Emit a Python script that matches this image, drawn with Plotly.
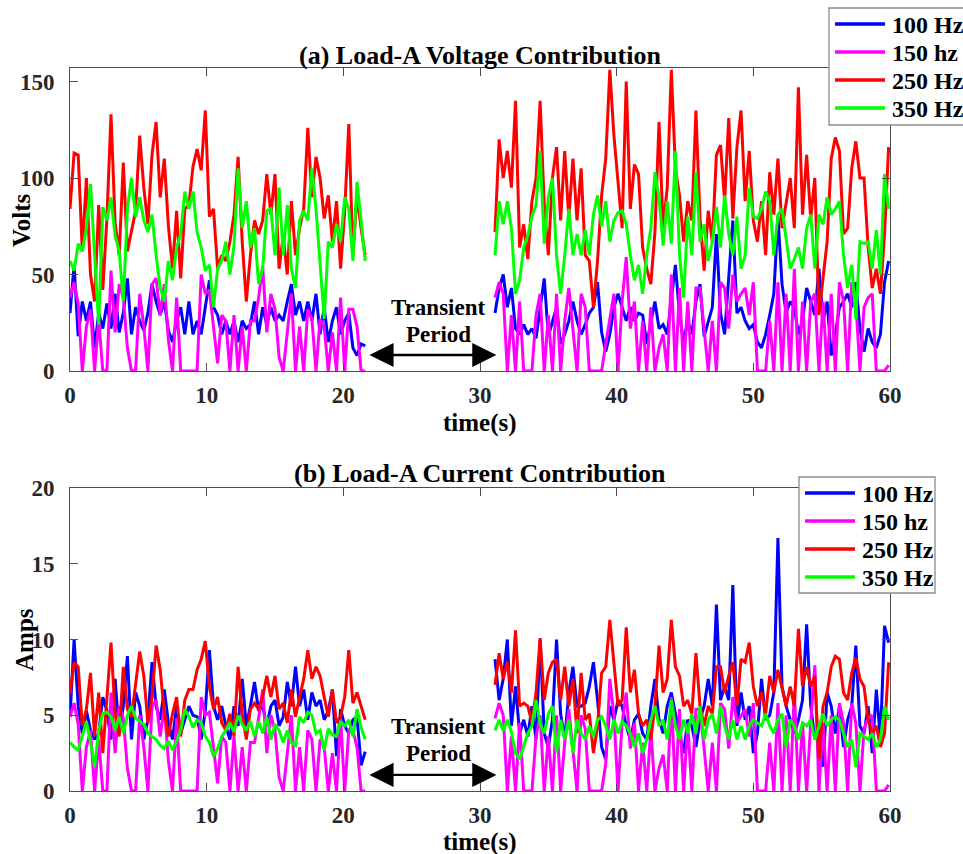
import numpy as np
import plotly.graph_objects as go

# Sample times of the two recorded windows (the gap between them is the transient period)
t_pre = np.round(np.linspace(0.0, 21.6, 73), 1)
t_post = np.round(np.linspace(31.1, 59.9, 97), 1)

harmonics = ["100 Hz", "150 hz", "250 Hz", "350 Hz"]

# ---- (a) Voltage contribution, Volts ----
v100_pre = [30, 55, 18, 36, 26, 36, 12, 30, 22, 35, 22, 40, 20, 30, 48, 19, 33, 26, 21, 30,
            45, 36, 29, 36, 21, 15, 26, 33, 19, 36, 19, 26, 19, 33, 47, 33, 29, 19, 26, 19,
            26, 15, 26, 22, 24, 36, 19, 33, 24, 33, 26, 29, 26, 36, 45, 29, 36, 26, 36, 26,
            40, 19, 33, 15, 26, 33, 19, 26, 30, 12, 8, 14, 13]
v100_post = [30, 43, 50, 33, 43, 22, 19, 24, 19, 22, 17, 33, 48, 18, 26, 33, 14, 19, 26, 36,
             26, 19, 24, 30, 33, 46, 20, 10, 19, 33, 40, 33, 26, 33, 26, 30, 29, 14, 26, 36,
             22, 24, 19, 36, 55, 29, 15, 26, 19, 36, 45, 18, 26, 33, 71, 30, 19, 50, 78, 30,
             33, 26, 22, 24, 15, 12, 19, 29, 40, 80, 45, 30, 36, 33, 19, 26, 43, 36, 29, 53,
             26, 36, 8, 19, 33, 36, 40, 33, 46, 22, 10, 22, 15, 12, 19, 46, 57]

v150_pre = [38, 46, 35, 0, 23, 32, 0, 27, 0, 0, 52, 20, 45, 38, 12, 0, 0, 40, 23, 0,
            45, 48, 29, 45, 16, 0, 38, 0, 0, 0, 0, 0, 50, 40, 42, 23, 4, 29, 26, 0,
            29, 0, 23, 0, 26, 26, 38, 54, 20, 40, 32, 7, 0, 20, 40, 0, 23, 0, 32, 27,
            0, 27, 23, 0, 20, 0, 38, 0, 32, 32, 23, 0, 0]
v150_post = [38, 46, 40, 0, 29, 0, 36, 0, 0, 0, 29, 40, 0, 29, 0, 40, 0, 26, 43, 22,
             0, 40, 33, 0, 0, 0, 0, 14, 27, 40, 0, 36, 59, 22, 36, 0, 26, 0, 33, 0,
             12, 19, 0, 50, 0, 43, 0, 36, 0, 43, 43, 22, 0, 26, 0, 46, 43, 22, 50, 36,
             40, 43, 29, 46, 0, 0, 0, 26, 0, 46, 0, 40, 0, 53, 0, 36, 0, 36, 40, 0,
             36, 0, 40, 0, 46, 36, 0, 46, 36, 0, 33, 38, 40, 0, 0, 0, 3]

v250_pre = [84, 113, 112, 62, 100, 50, 36, 86, 42, 79, 133, 77, 60, 108, 62, 72, 83, 122, 95, 76,
            112, 129, 90, 110, 75, 53, 83, 48, 84, 86, 106, 115, 104, 135, 80, 84, 53, 60, 57, 67,
            81, 111, 67, 36, 60, 78, 71, 78, 102, 81, 102, 53, 70, 50, 88, 60, 74, 84, 126, 90,
            111, 100, 79, 91, 67, 88, 53, 83, 128, 60, 91, 74, 60]
v250_post = [72, 120, 100, 114, 95, 140, 64, 76, 58, 88, 100, 140, 86, 60, 100, 116, 78, 114, 79, 110,
             78, 105, 60, 57, 33, 57, 91, 110, 156, 122, 98, 74, 150, 84, 107, 102, 64, 53, 45, 72,
             129, 74, 95, 156, 105, 91, 67, 88, 78, 135, 79, 52, 83, 67, 112, 117, 88, 131, 79, 116,
             135, 88, 114, 78, 67, 88, 60, 103, 81, 110, 74, 88, 100, 74, 147, 81, 112, 79, 100, 29,
             47, 67, 110, 121, 114, 71, 74, 105, 119, 100, 100, 64, 43, 53, 40, 71, 116]

v350_pre = [57, 52, 66, 62, 74, 97, 60, 24, 85, 78, 90, 70, 62, 36, 84, 100, 80, 90, 78, 72,
            81, 60, 43, 36, 57, 47, 64, 71, 93, 84, 93, 72, 64, 52, 55, 33, 53, 57, 67, 50,
            65, 105, 74, 88, 64, 74, 45, 53, 83, 84, 60, 95, 60, 86, 53, 43, 78, 83, 78, 105,
            84, 57, 27, 67, 64, 76, 67, 90, 84, 57, 98, 78, 57]
v350_post = [60, 88, 76, 88, 74, 40, 47, 64, 70, 80, 86, 114, 66, 90, 100, 60, 40, 60, 84, 60,
             71, 60, 73, 60, 81, 91, 75, 88, 67, 78, 82, 83, 76, 60, 47, 55, 40, 60, 74, 103,
             90, 65, 88, 66, 114, 60, 38, 80, 60, 103, 67, 76, 57, 67, 85, 64, 91, 71, 60, 80,
             53, 60, 95, 80, 79, 84, 93, 88, 60, 81, 84, 67, 53, 58, 64, 53, 74, 81, 53, 81,
             76, 90, 81, 84, 88, 60, 43, 55, 27, 67, 66, 67, 53, 73, 50, 102, 84]

# ---- (b) Current contribution, Amps ----
i100_pre = [4.9, 10.0, 5.6, 3.8, 5.3, 4.0, 3.4, 3.8, 6.2, 5.3, 3.4, 7.4, 3.8, 5.6, 8.9, 3.4, 6.5, 5.6, 3.4, 4.7,
            8.5, 5.6, 4.7, 6.7, 4.5, 3.4, 5.6, 3.8, 4.7, 5.6, 5.0, 4.9, 3.4, 5.3, 9.3, 5.6, 4.7, 5.6, 4.3, 3.4,
            5.6, 4.3, 7.4, 4.3, 5.6, 7.2, 5.3, 5.6, 4.3, 5.6, 6.0, 4.3, 4.9, 7.2, 5.6, 8.2, 5.6, 6.7, 4.7, 6.5,
            5.6, 6.0, 4.7, 5.3, 6.7, 2.3, 5.4, 4.3, 3.8, 4.7, 4.9, 1.7, 2.6]
i100_post = [8.7, 6.0, 7.4, 10.0, 4.3, 6.9, 3.8, 4.7, 3.6, 5.6, 3.4, 10.0, 3.8, 2.9, 4.7, 10.0, 5.1, 3.4, 6.5, 8.2,
             5.6, 5.6, 5.8, 6.9, 8.5, 6.0, 2.9, 2.1, 5.6, 4.7, 6.0, 5.6, 4.3, 3.4, 4.7, 5.1, 3.8, 3.4, 5.6, 7.4,
             4.7, 3.8, 5.6, 6.5, 5.1, 3.8, 2.5, 4.7, 4.3, 2.9, 4.7, 5.6, 7.4, 5.6, 12.3, 6.0, 6.9, 6.0, 13.6, 4.3,
             6.5, 4.7, 5.6, 2.5, 3.8, 7.4, 4.7, 5.0, 6.5, 16.7, 6.9, 5.6, 4.7, 3.8, 4.7, 6.0, 11.0, 5.6, 3.4, 4.3,
             1.6, 6.5, 5.6, 3.8, 5.6, 2.9, 4.7, 5.6, 9.6, 4.3, 3.8, 5.6, 2.5, 6.7, 3.4, 10.9, 9.8]

i150_pre = [4.9, 5.8, 4.4, 0, 2.9, 4.0, 0, 3.4, 0, 0, 6.5, 2.5, 5.6, 4.8, 1.5, 0, 0, 5.0, 2.9, 0,
            5.6, 6.0, 3.6, 5.6, 2.0, 0, 4.8, 0, 0, 0, 0, 0, 6.2, 5.0, 5.2, 2.9, 0.5, 3.6, 3.2, 0,
            3.6, 0, 2.9, 0, 3.2, 3.2, 4.8, 6.7, 2.5, 5.0, 4.0, 0.9, 0, 2.5, 5.0, 0, 2.9, 0, 4.0, 3.4,
            0, 3.4, 2.9, 0, 2.5, 0, 4.8, 0, 4.0, 4.0, 2.9, 0, 0]
i150_post = [4.8, 5.8, 5.0, 0, 3.6, 0, 4.5, 0, 0, 0, 3.6, 5.0, 0, 3.6, 0, 5.0, 0, 3.2, 5.4, 2.8,
             0, 5.0, 4.1, 0, 0, 0, 0, 1.8, 7.4, 5.0, 0, 4.5, 6.5, 2.8, 4.5, 0, 3.2, 0, 4.1, 0,
             1.5, 2.4, 0, 6.2, 0, 5.4, 0, 4.5, 0, 5.4, 5.4, 2.8, 0, 3.2, 0, 5.8, 5.4, 2.8, 6.2, 4.5,
             5.0, 5.4, 3.6, 5.8, 0, 0, 0, 3.2, 0, 5.8, 0, 5.0, 0, 6.6, 0, 4.5, 0, 4.5, 8.3, 0,
             4.5, 0, 5.0, 0, 5.8, 4.5, 0, 5.8, 4.5, 0, 4.1, 4.8, 5.0, 0, 0, 0, 0.4]

i250_pre = [6.4, 8.5, 8.2, 4.3, 5.4, 7.8, 3.6, 6.5, 2.5, 6.2, 9.8, 5.1, 3.6, 8.2, 5.4, 4.9, 6.9, 9.2, 7.6, 4.5,
            6.2, 9.6, 8.0, 5.2, 3.6, 5.1, 6.2, 3.6, 6.0, 6.7, 6.7, 8.0, 8.7, 9.9, 6.9, 5.4, 6.2, 4.5, 4.0, 5.1,
            3.6, 8.2, 5.1, 3.4, 5.4, 5.8, 5.4, 6.2, 7.6, 6.2, 7.6, 5.4, 5.8, 4.5, 6.7, 4.9, 6.2, 7.4, 9.3, 7.4,
            8.2, 7.6, 6.2, 4.9, 6.7, 4.5, 4.9, 6.2, 9.3, 5.8, 6.5, 5.6, 4.7]
i250_post = [7.0, 9.1, 7.4, 8.5, 6.5, 10.6, 5.6, 5.8, 5.6, 4.5, 6.5, 10.1, 6.0, 7.8, 8.5, 8.7, 6.0, 8.2, 5.6, 7.4,
             3.8, 7.8, 4.7, 5.1, 2.5, 4.3, 7.8, 8.2, 11.3, 8.2, 5.6, 6.0, 10.8, 6.5, 8.0, 5.1, 4.3, 4.7, 3.4, 5.6,
             9.6, 6.5, 7.4, 11.3, 8.2, 7.6, 5.6, 6.0, 5.1, 9.1, 5.6, 4.3, 5.6, 5.1, 8.2, 8.2, 6.5, 7.6, 8.5, 5.6,
             8.7, 8.5, 9.8, 6.9, 5.6, 6.5, 5.1, 7.6, 6.5, 8.0, 6.9, 5.6, 6.9, 5.6, 10.7, 6.9, 8.2, 6.9, 7.6, 2.1,
             5.6, 6.5, 8.2, 8.9, 8.7, 6.5, 6.0, 7.8, 8.8, 7.4, 6.9, 4.7, 3.8, 4.3, 2.9, 3.8, 8.5]

i350_pre = [3.2, 2.9, 2.7, 3.6, 4.6, 3.2, 1.6, 4.0, 5.1, 5.2, 4.9, 4.0, 4.9, 3.8, 5.0, 5.6, 4.8, 4.6, 4.4, 3.8,
            3.6, 3.4, 3.0, 2.8, 3.3, 2.7, 3.3, 4.0, 5.4, 4.9, 4.2, 4.7, 4.5, 3.6, 3.2, 2.3, 2.8, 3.6, 4.0, 4.5,
            3.9, 5.0, 4.4, 4.0, 4.6, 3.6, 4.6, 3.8, 4.9, 3.4, 4.4, 4.0, 3.2, 4.0, 3.2, 3.0, 4.9, 4.5, 5.2, 5.0,
            3.8, 4.0, 2.7, 4.1, 3.7, 3.6, 4.6, 4.3, 4.7, 3.6, 5.4, 4.2, 3.4]
i350_post = [4.0, 4.7, 4.0, 4.7, 3.9, 2.5, 2.1, 3.0, 3.8, 4.3, 6.0, 4.4, 3.8, 5.1, 5.6, 2.5, 4.7, 3.4, 4.7, 2.5,
             4.7, 3.8, 3.4, 4.3, 3.6, 4.7, 4.9, 4.3, 3.4, 4.7, 3.8, 4.6, 4.3, 3.8, 2.9, 3.8, 2.5, 3.4, 4.7, 5.6,
             4.3, 4.7, 3.4, 6.0, 4.3, 3.4, 4.7, 3.8, 5.1, 3.8, 5.6, 3.4, 4.7, 5.1, 3.8, 5.6, 4.3, 3.4, 4.7, 3.4,
             4.3, 3.4, 4.3, 4.7, 4.5, 4.3, 5.1, 4.3, 3.8, 4.7, 5.1, 2.9, 4.7, 4.3, 3.4, 4.5, 4.3, 4.7, 3.4, 4.3,
             5.1, 4.3, 4.7, 4.9, 4.7, 3.8, 2.9, 3.4, 1.6, 3.8, 3.6, 3.4, 3.8, 2.9, 3.4, 5.6, 4.7]

voltage = {"100 Hz": (v100_pre, v100_post), "150 hz": (v150_pre, v150_post),
           "250 Hz": (v250_pre, v250_post), "350 Hz": (v350_pre, v350_post)}
current = {"100 Hz": (i100_pre, i100_post), "150 hz": (i150_pre, i150_post),
           "250 Hz": (i250_pre, i250_post), "350 Hz": (i350_pre, i350_post)}

colors = {"100 Hz": "#0000FF", "150 hz": "#FF00FF", "250 Hz": "#FF0000", "350 Hz": "#00FF00"}

SERIF = "Liberation Serif"


def stitch(pre, post):
    if len(pre) != len(t_pre) or len(post) != len(t_post):
        raise ValueError("series length does not match its time base")
    return list(pre) + [None] + list(post)


x_all = list(t_pre) + [None] + list(t_post)

fig = go.Figure()
for name in harmonics:
    fig.add_trace(go.Scatter(x=x_all, y=stitch(*voltage[name]), name=name, mode="lines",
                             line=dict(color=colors[name], width=3),
                             xaxis="x", yaxis="y", showlegend=False))
for name in harmonics:
    fig.add_trace(go.Scatter(x=x_all, y=stitch(*current[name]), name=name, mode="lines",
                             line=dict(color=colors[name], width=3),
                             xaxis="x2", yaxis="y2", showlegend=False))

W, H = 963, 854
AX_L, AX_R = 70, 890
TOP_Y = (68, 371)
BOT_Y = (488, 791)


def px_x(p):
    return p / W


def px_y(p):
    return 1 - p / H


tickfont = dict(family=SERIF, size=23, color="#262626", weight="bold")
axis_common = dict(ticks="inside", ticklen=8, tickwidth=1, tickcolor="#4d4d4d",
                   mirror="allticks", showline=True, linecolor="#4d4d4d", linewidth=1,
                   showgrid=False, zeroline=False, tickfont=tickfont)

x_common = dict(axis_common, range=[0, 60], tickvals=[0, 10, 20, 30, 40, 50, 60],
                domain=[px_x(AX_L), px_x(AX_R)], ticklabelstandoff=3)

fig.update_layout(
    width=W, height=H,
    margin=dict(l=0, r=0, t=0, b=0, autoexpand=False),
    paper_bgcolor="white", plot_bgcolor="white",
    xaxis=dict(x_common, anchor="y"),
    yaxis=dict(axis_common, anchor="x", range=[0, 157], tickvals=[0, 50, 100, 150],
               domain=[px_y(TOP_Y[1]), px_y(TOP_Y[0])], ticklabelstandoff=10),
    xaxis2=dict(x_common, anchor="y2"),
    yaxis2=dict(axis_common, anchor="x2", range=[0, 20], tickvals=[0, 5, 10, 15, 20],
                domain=[px_y(BOT_Y[1]), px_y(BOT_Y[0])], ticklabelstandoff=10),
    showlegend=False,
)

title_font = dict(family=SERIF, size=26, color="black", weight="bold")
label_font = dict(family=SERIF, size=25, color="black", weight="bold")
text_font = dict(family=SERIF, size=23, color="black", weight="bold")
legend_font = dict(family=SERIF, size=24, color="black", weight="bold")

annotations = [
    dict(text="(a) Load-A Voltage Contribution", x=px_x(480), y=px_y(56), font=title_font),
    dict(text="(b) Load-A Current Contribution", x=px_x(480), y=px_y(474), font=title_font),
    dict(text="time(s)", x=px_x(480), y=px_y(423), font=label_font),
    dict(text="time(s)", x=px_x(480), y=px_y(842), font=label_font),
    dict(text="Volts", x=px_x(21), y=px_y(220), font=label_font, textangle=-90),
    dict(text="Amps", x=px_x(24), y=px_y(640), font=label_font, textangle=-90),
    dict(text="Transient", x=px_x(438), y=px_y(307), font=text_font),
    dict(text="Period", x=px_x(438), y=px_y(334), font=text_font),
    dict(text="Transient", x=px_x(438), y=px_y(726), font=text_font),
    dict(text="Period", x=px_x(438), y=px_y(753), font=text_font),
]
for a in annotations:
    a.update(xref="paper", yref="paper", showarrow=False, xanchor="center", yanchor="middle")

# double-headed arrows spanning the transient gap
for xr, yr, yv in (("x", "y", 8.3), ("x2", "y2", 1.06)):
    annotations.append(dict(x=31.2, y=yv, ax=21.8, ay=yv, xref=xr, yref=yr, axref=xr, ayref=yr,
                            text="", showarrow=True, arrowside="end+start",
                            arrowhead=2, startarrowhead=2, arrowsize=2.1, startarrowsize=2.1,
                            arrowwidth=2.3, arrowcolor="black"))

# legend panels: framed box, colour swatches and harmonic labels
shapes = []
legend_boxes = [
    dict(x0=829, y0=8, x1=970, y1=125, rows=[24, 52, 80, 108], lx0=835, lx1=885, tx=890),
    dict(x0=799, y0=477, x1=935, y1=593, rows=[493, 521, 549, 577], lx0=805, lx1=855, tx=860),
]
for box in legend_boxes:
    shapes.append(dict(type="rect", xref="paper", yref="paper", layer="above",
                       x0=px_x(box["x0"]), x1=px_x(box["x1"]),
                       y0=px_y(box["y1"]), y1=px_y(box["y0"]),
                       line=dict(color="#8c8c8c", width=1.3), fillcolor="white"))
    for name, row in zip(harmonics, box["rows"]):
        shapes.append(dict(type="line", xref="paper", yref="paper", layer="above",
                           x0=px_x(box["lx0"]), x1=px_x(box["lx1"]),
                           y0=px_y(row), y1=px_y(row),
                           line=dict(color=colors[name], width=3.5)))
        annotations.append(dict(text=name, xref="paper", yref="paper", showarrow=False,
                                x=px_x(box["tx"]), y=px_y(row + 1),
                                xanchor="left", yanchor="middle", font=legend_font))

fig.update_layout(annotations=annotations, shapes=shapes)

fig.write_html("out.html")
